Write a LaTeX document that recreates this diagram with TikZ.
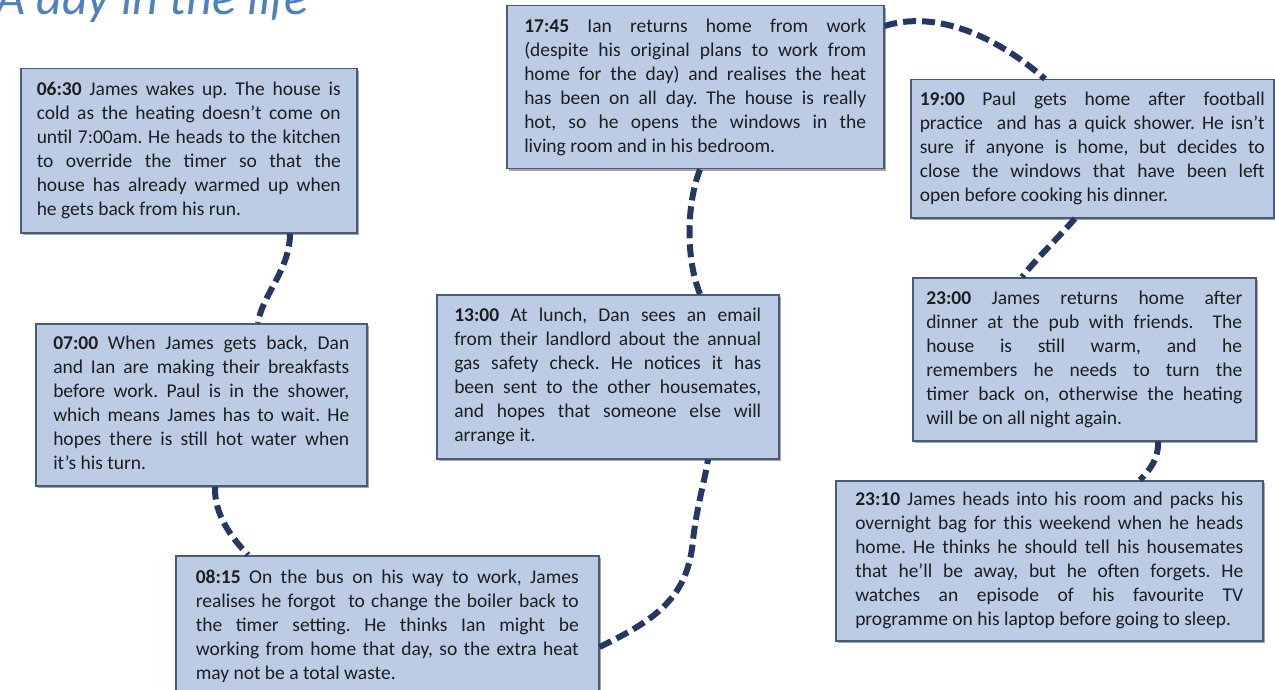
\documentclass[tikz,border=0pt]{standalone}
\usepackage{fontspec}
\setmainfont{Carlito}
\usetikzlibrary{shadows}
\frenchspacing

\definecolor{boxfill}{RGB}{187,204,228}
\definecolor{boxline}{RGB}{72,92,122}
\definecolor{linkcol}{RGB}{36,56,98}
\definecolor{titlecol}{RGB}{79,129,189}
\definecolor{bodytext}{RGB}{30,30,30}

% one justified line, and a final (ragged) line of an entry
\newcommand\jl[1]{\hbox to\hsize{\strut#1}}
\newcommand\lastline[1]{\hbox{\strut#1}}
% a block of lines with a given measure
\newcommand\entry[2]{\vbox{\hsize=#1\relax #2}}

\tikzset{
  box/.style={draw=boxline, line width=1.5pt, fill=boxfill, anchor=north west,
    inner ysep=0pt, text=bodytext, font=\fontsize{19.5pt}{24pt}\selectfont,
    drop shadow={shadow xshift=2pt, shadow yshift=-2.5pt, fill=black!70, opacity=.5}},
  link/.style={draw=linkcol, line width=6pt, dash pattern=on 13pt off 6pt},
}

\begin{document}
\begin{tikzpicture}[x=1pt, y=-1pt]
\useasboundingbox (0,0) rectangle (1275,690);
\clip (0,0) rectangle (1275,690);
\fill[white] (0,0) rectangle (1275,690);

% title, running off the top edge
\node[anchor=base west, inner sep=0pt, text=titlecol,
      font=\fontsize{50pt}{60pt}\selectfont\itshape] (title) at (-4,15) {A day in the life};

% timeline entries
\node[box, minimum width=336pt, minimum height=164pt, inner xsep=16pt] (A) at (20,68) {\entry{304pt}{%
\jl{\textbf{06:30} James wakes up. The house is}
\jl{cold as the heating doesn’t come on}
\jl{until 7:00am. He heads to the kitchen}
\jl{to override the timer so that the}
\jl{house has already warmed up when}
\lastline{he gets back from his run.}}};

\node[box, minimum width=331pt, minimum height=162pt, inner xsep=17.5pt] (B) at (35,323) {\entry{296pt}{%
\jl{\textbf{07:00} When James gets back, Dan}
\jl{and Ian are making their breakfasts}
\jl{before work. Paul is in the shower,}
\jl{which means James has to wait. He}
\jl{hopes there is still hot water when}
\lastline{it’s his turn.}}};

\node[box, minimum width=423pt, minimum height=142pt, inner xsep=20pt] (C) at (175,555) {\entry{383pt}{%
\jl{\textbf{08:15} On the bus on his way to work, James}
\jl{realises he forgot\ \ to change the boiler back to}
\jl{the timer setting. He thinks Ian might be}
\jl{working from home that day, so the extra heat}
\lastline{may not be a total waste.}}};

\node[box, minimum width=342pt, minimum height=164pt, inner xsep=17.5pt] (D) at (436,294) {\entry{307pt}{%
\jl{\textbf{13:00} At lunch, Dan sees an email}
\jl{from their landlord about the annual}
\jl{gas safety check. He notices it has}
\jl{been sent to the other housemates,}
\jl{and hopes that someone else will}
\lastline{arrange it.}}};

\node[box, minimum width=377pt, minimum height=163pt, inner xsep=17.5pt] (E) at (506,5) {\entry{342pt}{%
\jl{\textbf{17:45} Ian returns home from work}
\jl{(despite his original plans to work from}
\jl{home for the day) and realises the heat}
\jl{has been on all day. The house is really}
\jl{hot, so he opens the windows in the}
\lastline{living room and in his bedroom.}}};

\node[box, minimum width=363pt, minimum height=138pt, inner xsep=9pt] (F) at (910,79) {\entry{345pt}{%
\jl{\textbf{19:00} Paul gets home after football}
\jl{practice\ \ and has a quick shower. He isn’t}
\jl{sure if anyone is home, but decides to}
\jl{close the windows that have been left}
\lastline{open before cooking his dinner.}}};

\node[box, minimum width=343pt, minimum height=163pt, inner xsep=13.5pt] (G) at (912,277) {\entry{316pt}{%
\jl{\textbf{23:00} James returns home after}
\jl{dinner at the pub with friends.\ \ The}
\jl{house is still warm, and he}
\jl{remembers he needs to turn the}
\jl{timer back on, otherwise the heating}
\lastline{will be on all night again.}}};

\node[box, minimum width=427pt, minimum height=160pt, inner xsep=19.5pt] (H) at (835,480) {\entry{388pt}{%
\jl{\textbf{23:10} James heads into his room and packs his}
\jl{overnight bag for this weekend when he heads}
\jl{home. He thinks he should tell his housemates}
\jl{that he’ll be away, but he often forgets. He}
\jl{watches an episode of his favourite TV}
\lastline{programme on his laptop before going to sleep.}}};

% dashed connectors between consecutive entries
\draw[link] (A.south -| 290,0) .. controls (290,270) and (262,295) .. (B.north -| 258,0);
\draw[link] (B.south -| 215,0) .. controls (214,515) and (232,538) .. (C.north -| 248,0);
\draw[link] (C.east |- 0,647) .. controls (655,620) and (688,598) .. (693,540)
            .. controls (697,505) and (705,480) .. (D.south -| 708,0);
\draw[link] (D.north -| 700,0) .. controls (686,260) and (686,205) .. (E.south -| 700,0);
\draw[link] (E.east |- 0,26) .. controls (935,10) and (995,35) .. (F.north -| 1045,0);
\draw[link] (F.south -| 1075,0) .. controls (1058,238) and (1037,258) .. (G.north -| 1022,0);
\draw[link] (G.south -| 1158,0) .. controls (1159,458) and (1150,470) .. (H.north -| 1140,0);
\end{tikzpicture}
\end{document}
